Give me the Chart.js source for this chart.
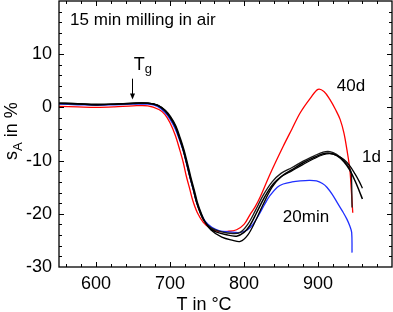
<!DOCTYPE html>
<html><head><meta charset="utf-8">
<script src="https://cdn.jsdelivr.net/npm/chart.js@4"></script>
<style>html,body{margin:0;padding:0;background:#fff}#wrap{width:393px;height:312px}</style>
</head><body><div id="wrap"><canvas id="c" width="393" height="312"></canvas></div>
<script>
// ---- data ----
const xTickLabels = [600, 700, 800, 900];
const yTickLabels = [-30, -20, -10, 0, 10];

const redT = [550,575,600,625,650,670,685,693,700,707,713,718,722,727,731,737,745,755,765,778,790,800,808,815,822,835,853,865,876,890,900,908,916,924,930,935,939,943,945,947];
const redS = [0.2,0.1,0.0,0.1,0.3,0.3,-0.4,-1.3,-2.9,-5.2,-7.9,-10.4,-12.9,-15.5,-17.6,-19.8,-21.6,-22.8,-23.3,-23.3,-23.0,-22.0,-20.2,-18.7,-16.8,-12.6,-7.3,-4.0,-1.0,1.8,3.4,3.0,1.5,-0.5,-2.3,-4.8,-7.9,-11.6,-15.5,-19.8];

const blueT = [550,575,600,625,650,670,683,693,700,707,713,718,723,727,732,736,742,748,757,767,780,795,805,812,820,828,835,845,853,865,876,888,898,906,912,919,926,933,939,943,945.5,946];
const blueS = [0.6,0.5,0.4,0.5,0.6,0.6,0.2,-0.9,-2.2,-4.0,-6.2,-8.2,-11.0,-13.2,-15.8,-17.9,-20.0,-21.5,-22.6,-23.2,-23.4,-23.5,-23.0,-22.0,-20.2,-18.2,-16.6,-15.0,-14.4,-14.0,-13.8,-13.7,-13.8,-14.3,-15.0,-16.3,-17.9,-19.5,-21.0,-22.3,-23.5,-27.3];

const blackAT = [550,575,600,625,650,670,683,693,700,707,713,718,723,727,732,736,741,746,753,762,775,790,800,808,817,828,840,852,865,880,895,907,916,925,935,943,950,956,960];
const blackAS = [0.8,0.7,0.5,0.6,0.8,0.8,0.4,-0.6,-1.8,-3.5,-5.8,-8.0,-10.7,-13.0,-15.6,-17.8,-19.8,-21.3,-22.6,-23.4,-23.9,-24.2,-23.5,-22.2,-19.8,-16.8,-14.3,-12.8,-11.7,-10.4,-9.4,-8.7,-8.6,-9.0,-10.2,-11.8,-13.8,-15.8,-17.2];

const blackBT = [550,575,600,625,650,670,684,694,701,708,714,719,724,728,733,737,742,747,755,770,785,795,805,815,825,838,850,865,880,895,907,916,925,935,943,950,956,960];
const blackBS = [0.8,0.7,0.6,0.6,0.8,0.8,0.4,-0.6,-1.8,-3.5,-5.8,-8.0,-10.7,-13.0,-15.6,-17.8,-19.8,-21.4,-23.0,-24.4,-25.0,-25.2,-24.0,-21.5,-18.5,-15.0,-13.1,-11.9,-10.7,-9.6,-8.9,-8.7,-9.0,-9.8,-11.0,-12.5,-14.0,-15.2];

const blackCT = [550,575,600,625,650,670,683,693,700,707,713,718,723,727,732,736,741,746,755,770,785,795,805,815,826,838,850,865,880,895,907,916,925,935,943,945,946];
const blackCS = [0.7,0.6,0.5,0.6,0.7,0.8,0.4,-0.6,-1.9,-3.6,-5.9,-8.1,-10.8,-13.1,-15.7,-17.9,-19.9,-21.3,-22.6,-23.4,-23.7,-23.5,-22.0,-19.5,-16.5,-14.0,-12.4,-11.3,-10.1,-9.1,-8.4,-8.3,-8.8,-10.0,-11.5,-12.5,-18.8];

// ---- annotations (text, placed in data coordinates) ----
const titleText = '15 min milling in air';
const seriesLabels = [
  {text:'40d',   x:925.5, y:3.0},
  {text:'1d',    x:959.5, y:-10.3},
  {text:'20min', x:852.5, y:-21.6}
];

const pts = (T, S) => T.map((t, i) => ({x: t, y: S[i]}));
const FONT = "'Liberation Sans', Arial, sans-serif";

const frame = {
  id: 'frame',
  afterDraw(chart) {
    const {ctx, chartArea: a, scales: {x, y}} = chart;
    ctx.save();
    ctx.strokeStyle = '#000';
    ctx.lineWidth = 1.3;
    ctx.strokeRect(a.left, a.top, a.right - a.left, a.bottom - a.top);
    ctx.lineWidth = 1;
    ctx.beginPath();
    for (let v = 560; v < 1000; v += 20) {
      const px = Math.round(x.getPixelForValue(v)) + 0.5;
      const len = v % 100 === 0 ? 5 : 3;
      ctx.moveTo(px, a.bottom); ctx.lineTo(px, a.bottom - len);
      ctx.moveTo(px, a.top); ctx.lineTo(px, a.top + len);
    }
    for (let v = -28; v < 20; v += 2) {
      const py = Math.round(y.getPixelForValue(v)) + 0.5;
      const len = v % 10 === 0 ? 5 : 3;
      ctx.moveTo(a.left, py); ctx.lineTo(a.left + len, py);
      ctx.moveTo(a.right, py); ctx.lineTo(a.right - len, py);
    }
    ctx.stroke();

    // texts
    ctx.fillStyle = '#000';
    ctx.textBaseline = 'alphabetic';
    ctx.textAlign = 'left';
    ctx.font = '17px ' + FONT;
    ctx.fillText(titleText, x.getPixelForValue(565), y.getPixelForValue(15.4));
    for (const l of seriesLabels) {
      ctx.fillText(l.text, x.getPixelForValue(l.x), y.getPixelForValue(l.y));
    }
    // Tg with arrow
    const tx = x.getPixelForValue(651), ty = y.getPixelForValue(7.1);
    ctx.font = '18px ' + FONT;
    ctx.fillText('T', tx, ty);
    const tw = ctx.measureText('T').width;
    ctx.font = '13px ' + FONT;
    ctx.fillText('g', tx + tw, ty + 3);
    const ax = Math.round(x.getPixelForValue(648.5)) + 0.5;
    const ay0 = y.getPixelForValue(5.4), ay1 = y.getPixelForValue(1.5);
    ctx.beginPath(); ctx.moveTo(ax, ay0); ctx.lineTo(ax, ay1 - 4); ctx.stroke();
    ctx.beginPath(); ctx.moveTo(ax - 2.5, ay1 - 6); ctx.lineTo(ax + 2.5, ay1 - 6); ctx.lineTo(ax, ay1); ctx.closePath(); ctx.fill();

    // x axis title
    ctx.font = '18px ' + FONT;
    ctx.textAlign = 'center';
    ctx.fillText('T in °C', 204, 310);

    // y axis title with subscript, rotated
    ctx.save();
    ctx.translate(17, 160);
    ctx.rotate(-Math.PI / 2);
    ctx.textAlign = 'left';
    ctx.font = '18px ' + FONT;
    ctx.fillText('s', 0, 0);
    let w = ctx.measureText('s').width;
    ctx.font = '13px ' + FONT;
    ctx.fillText('A', w, 5);
    w += ctx.measureText('A').width;
    ctx.font = '18px ' + FONT;
    ctx.fillText(' in %', w, 0);
    ctx.restore();
    ctx.restore();
  }
};

const ds = (label, data, color, width) => ({
  label, data, borderColor: color, borderWidth: width, pointRadius: 0,
  fill: false, tension: 0.35, showLine: true
});

new Chart(document.getElementById('c'), {
  type: 'scatter',
  data: {
    datasets: [
      ds('1d a', pts(blackAT, blackAS), '#000000', 1.5),
      ds('1d b', pts(blackBT, blackBS), '#000000', 1.3),
      ds('1d c', pts(blackCT, blackCS), '#1a1a1a', 1.3),
      ds('20min', pts(blueT, blueS), '#1f2fff', 1.3),
      ds('40d', pts(redT, redS), '#ff0000', 1.3)
    ]
  },
  options: {
    responsive: false,
    animation: false,
    devicePixelRatio: 1,
    layout: {padding: {top: 1, right: 1, left: 0, bottom: 0}},
    plugins: {legend: {display: false}, tooltip: {enabled: false}},
    scales: {
      x: {
        type: 'linear', min: 550, max: 1000,
        afterBuildTicks: s => { s.ticks = xTickLabels.map(v => ({value: v})); },
        afterFit: s => { s.height = 45; s.paddingLeft = 0; s.paddingRight = 0; },
        grid: {display: false, drawTicks: false},
        border: {display: false},
        ticks: {color: '#000', padding: 6, maxRotation: 0, font: {family: FONT, size: 18}}
      },
      y: {
        type: 'linear', min: -30, max: 20,
        afterBuildTicks: s => { s.ticks = yTickLabels.map(v => ({value: v})); },
        afterFit: s => { s.width = 59; s.paddingTop = 0; s.paddingBottom = 0; },
        grid: {display: false, drawTicks: false},
        border: {display: false},
        ticks: {color: '#000', padding: 7, font: {family: FONT, size: 18}}
      }
    }
  },
  plugins: [frame]
});
</script>
</body></html>
